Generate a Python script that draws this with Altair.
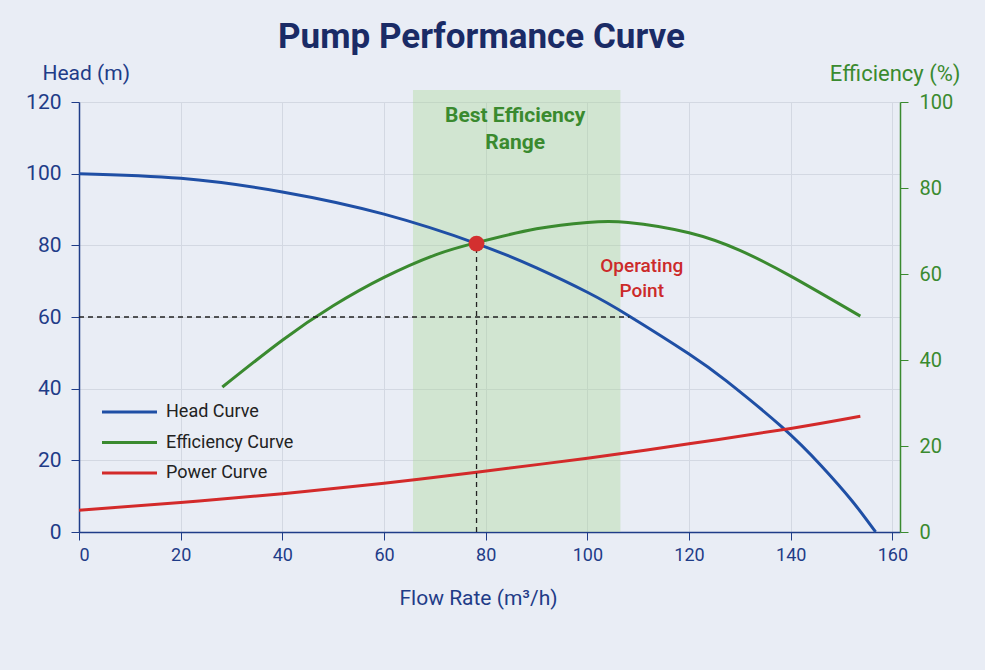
import altair as alt
import pandas as pd

# ---------------- data ----------------
head_flow = [0, 20, 40, 60, 78.2, 90, 100, 108.2, 120, 127.4, 138.2, 146, 152, 156.7]
head_m = [100, 98.7, 94.9, 88.7, 80.5, 73.7, 66.9, 60.3, 49.7, 42.1, 29.4, 18.5, 8.8, 0]

eff_flow = [28.2, 40, 50, 60, 70, 78.2, 90, 100, 108, 120, 130, 140, 153.7]
eff_pct = [33.7, 44.6, 52.6, 59.2, 64.4, 67.3, 70.5, 72.0, 72.0, 69.6, 65.5, 59.5, 50.2]

power_flow = [0, 20, 40, 60, 78.2, 100, 120, 140, 153.7]
power_val = [6.1, 8.2, 10.7, 13.6, 16.7, 20.6, 24.6, 28.9, 32.3]

series_names = ["Head Curve", "Efficiency Curve", "Power Curve"]
x_ticks = [0, 20, 40, 60, 80, 100, 120, 140, 160]
yl_ticks = [0, 20, 40, 60, 80, 100, 120]
yr_ticks = [0, 20, 40, 60, 80, 100]

band_start, band_end = 65.7, 106.5
op_flow, op_head = 78.2, 80.5
ref_head, ref_flow_end = 60, 108.3

bep_text = ["Best Efficiency", "Range"]
bep_flow = [85.8, 85.8]
bep_y = [116.1, 108.5]

op_text = ["Operating", "Point"]
op_text_flow = [110.7, 110.7]
op_text_y = [74.2, 67.3]

# ---------------- style ----------------
FONT = "Roboto"
NAVY = "#1f3c88"
TITLE_C = "#1a2b66"
BLUE = "#1f4fa5"
GREEN = "#3a8a2f"
RED = "#d32a2a"
BG = "#e9edf5"
GRID = "#d3d8e2"

W, H = 821, 430

lines_lr = pd.DataFrame(
    {"flow": head_flow + power_flow,
     "val": head_m + power_val,
     "series": ["Head Curve"] * len(head_flow) + ["Power Curve"] * len(power_flow)}
)
eff_df = pd.DataFrame({"flow": eff_flow, "val": eff_pct, "series": ["Efficiency Curve"] * len(eff_flow)})

x_scale = alt.Scale(domain=[0, 161.5], nice=False, zero=False)
yl_scale = alt.Scale(domain=[0, 120], nice=False)
yr_scale = alt.Scale(domain=[0, 100], nice=False)

x_axis = alt.Axis(values=x_ticks, title="Flow Rate (m³/h)", labelFontSize=18, labelColor=NAVY,
                  labelPadding=6, tickSize=8, tickColor=NAVY, domainColor=NAVY, domainWidth=1.5,
                  grid=True, gridColor=GRID, titleFontSize=21, titleFontWeight="normal",
                  titleColor=NAVY, titleX=399, titleY=66, titleBaseline="middle", titleAlign="center")

X = alt.X("flow:Q", scale=x_scale, axis=x_axis)

color_scale = alt.Scale(domain=series_names, range=[BLUE, GREEN, RED])
legend = alt.Legend(orient="none", legendX=14, legendY=301, title=None,
                    symbolType="M0,0H10", symbolSize=121, symbolStrokeWidth=3,
                    labelFontSize=18, labelColor="#222222", labelOffset=55, rowPadding=12.5,
                    labelFont=FONT)

band = alt.Chart(pd.DataFrame({"flow": [band_start], "flow2": [band_end]})).mark_rect(
    color="#a5d690", opacity=0.35, clip=False
).encode(x=X, x2="flow2:Q", y=alt.value(-12), y2=alt.value(H))

left_axis = alt.Axis(values=yl_ticks, orient="left", title="Head (m)", labelFontSize=21,
                     labelColor=NAVY, labelPadding=10, tickSize=8, tickColor=NAVY,
                     domainColor=NAVY, domainWidth=1.5, grid=True, gridColor=GRID,
                     titleAngle=0, titleX=-37, titleY=-29, titleAlign="left",
                     titleBaseline="middle", titleFontSize=21, titleFontWeight="normal",
                     titleColor=NAVY)

head_power = alt.Chart(lines_lr).mark_line(strokeWidth=3, interpolate="natural").encode(
    x=X,
    y=alt.Y("val:Q", scale=yl_scale, axis=left_axis),
    color=alt.Color("series:N", scale=color_scale, legend=legend, sort=series_names),
    detail="series:N",
)

right_axis = alt.Axis(values=yr_ticks, orient="right", title="Efficiency (%)", labelFontSize=20,
                      labelColor=GREEN, labelPadding=11, tickSize=8, tickColor=GREEN,
                      domainColor=GREEN, domainWidth=1.5, grid=False,
                      titleAngle=0, titleX=60, titleY=-29, titleAlign="right",
                      titleBaseline="middle", titleFontSize=22, titleFontWeight="normal",
                      titleColor=GREEN)

eff_line = alt.Chart(eff_df).mark_line(strokeWidth=3, interpolate="natural").encode(
    x=X,
    y=alt.Y("val:Q", scale=yr_scale, axis=right_axis),
    color=alt.Color("series:N", scale=color_scale, legend=legend, sort=series_names),
)

hline = alt.Chart(pd.DataFrame({"flow": [0], "flow2": [ref_flow_end], "val": [ref_head]})).mark_rule(
    color="#222222", strokeWidth=1.3, strokeDash=[5, 4]
).encode(x=X, x2="flow2:Q", y=alt.Y("val:Q", scale=yl_scale, axis=None))

vline = alt.Chart(pd.DataFrame({"flow": [op_flow], "val": [0], "val2": [op_head]})).mark_rule(
    color="#222222", strokeWidth=1.3, strokeDash=[5, 4]
).encode(x=X, y=alt.Y("val:Q", scale=yl_scale, axis=None), y2="val2:Q")

op_point = alt.Chart(pd.DataFrame({"flow": [op_flow], "val": [op_head]})).mark_circle(
    size=250, color="#d3302f", opacity=1
).encode(x=X, y=alt.Y("val:Q", scale=yl_scale, axis=None))

bep_label = alt.Chart(pd.DataFrame({"flow": bep_flow, "val": bep_y, "t": bep_text})).mark_text(
    font=FONT, fontSize=21, fontWeight="bold", color=GREEN, align="center", baseline="middle"
).encode(x=X, y=alt.Y("val:Q", scale=yl_scale, axis=None), text="t:N")

op_label = alt.Chart(pd.DataFrame({"flow": op_text_flow, "val": op_text_y, "t": op_text})).mark_text(
    font=FONT, fontSize=19, fontWeight=500, color="#cc2a2a", align="center", baseline="middle"
).encode(x=X, y=alt.Y("val:Q", scale=yl_scale, axis=None), text="t:N")

chart = alt.layer(
    band, head_power, eff_line, hline, vline, op_point, bep_label, op_label
).resolve_scale(y="independent").properties(
    width=W, height=H,
    title=alt.Title("Pump Performance Curve", fontSize=35, font=FONT, fontWeight="bold",
                    color=TITLE_C, anchor="middle", dx=-8, offset=7),
    autosize=alt.AutoSizeParams(type="none"),
    padding={"left": 79, "top": 102, "right": 85, "bottom": 138},
    background=BG,
).configure(font=FONT).configure_view(stroke=None).configure_axis(
    labelFont=FONT, titleFont=FONT
)

chart.save("out.html", embed_options={"renderer": "svg", "actions": False})
